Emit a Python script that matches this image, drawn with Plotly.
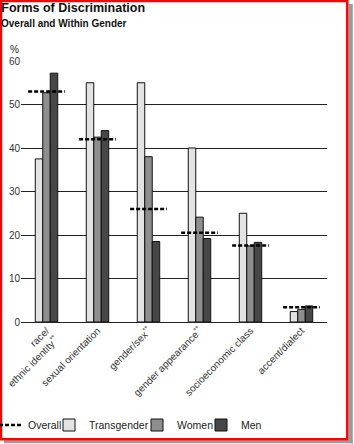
import plotly.graph_objects as go

categories = ["race/<br>ethnic identity<sup>**</sup>", "sexual orientation", "gender/sex<sup>**</sup>",
              "gender appearance<sup>**</sup>", "socioeconomic class", "accent/dialect"]
overall = [53, 42, 26, 20.5, 17.6, 3.4]
transgender = [37.5, 55, 55, 40, 25, 2.4]
women = [52.7, 42.5, 38, 24.1, 17.5, 2.9]
men = [57.2, 44, 18.5, 19.2, 18.3, 3.7]
y_ticks = [0, 10, 20, 30, 40, 50, 60]

W, H = 354, 444
ML, MR, MT, MB = 21, 27, 61, 122
PW, PH = W - ML - MR, H - MT - MB

def px(x):
    return (x - ML) / PW

def py(y):
    return (H - MB - y) / PH

pos = list(range(len(categories)))
half = 0.36
ox, oy = [], []
for i, v in zip(pos, overall):
    ox += [i - half, i + half, None]
    oy += [v, v, None]

font = "Liberation Sans, Arial, sans-serif"
fig = go.Figure()
fig.add_trace(go.Scatter(x=ox, y=oy, mode="lines", name="Overall",
                         line=dict(color="black", width=2.5, dash="4px,2px"),
                         legendwidth=16))
for name, vals, col, lw in [("Transgender", transgender, "#e3e3e3", 43),
                            ("Women", women, "#8e8e8e", 19),
                            ("Men", men, "#474747", 21)]:
    fig.add_trace(go.Bar(x=pos, y=vals, name=name, marker=dict(color=col, line=dict(color="#111", width=1)),
                         legendwidth=lw))

shapes = [
    # shadow
    dict(type="rect", xref="paper", yref="paper", x0=px(348.7), x1=px(352.8), y0=py(443.3), y1=py(4),
         fillcolor="#9a9a9a", line=dict(width=0), layer="above"),
    dict(type="rect", xref="paper", yref="paper", x0=px(4), x1=px(352.8), y0=py(443.3), y1=py(440.3),
         fillcolor="#9a9a9a", line=dict(width=0), layer="above"),
    # red frame
    dict(type="rect", xref="paper", yref="paper", x0=px(1), x1=px(347.3), y0=py(439.2), y1=py(0.9),
         line=dict(color="#ff0000", width=2.5), fillcolor="rgba(0,0,0,0)", layer="above"),
]

fig.update_layout(
    width=W, height=H,
    margin=dict(l=ML, r=MR, t=MT, b=MB, autoexpand=False),
    paper_bgcolor="white", plot_bgcolor="white",
    font=dict(family=font, color="#222", size=10),
    barmode="group", bargap=0.56, bargroupgap=0,
    title=dict(text="<b>Forms of Discrimination</b>", x=1.3 / W, xanchor="left", xref="container",
               y=1 - 8 / H, yanchor="middle", yref="container",
               font=dict(size=12.5, color="#111", family=font)),
    annotations=[
        dict(text="<b>Overall and Within Gender</b>", xref="paper", yref="paper", x=px(-1), y=py(24),
             xanchor="left", yanchor="middle", showarrow=False, font=dict(size=10, color="#111")),
        dict(text="%", xref="paper", yref="paper", x=px(14), y=py(49),
             xanchor="center", yanchor="middle", showarrow=False, font=dict(size=10, color="#222")),
    ],
    xaxis=dict(tickmode="array", tickvals=pos, ticktext=categories, tickangle=-45,
               range=[-0.5, len(categories) - 0.5], showgrid=False, showline=False, zeroline=False,
               ticklabeloverflow="allow", tickfont=dict(size=10, color="#333")),
    yaxis=dict(range=[0, 60], tickvals=y_ticks, showgrid=True, gridcolor="#222", gridwidth=1,
               zeroline=True, zerolinecolor="#222", zerolinewidth=1, showline=False, ticks="",
               tickfont=dict(size=10, color="#333")),
    legend=dict(orientation="h", x=px(-12), xanchor="left", y=py(425), yanchor="middle",
                font=dict(size=10.5, color="#222"), bgcolor="rgba(0,0,0,0)", borderwidth=0,
                traceorder="normal"),
    shapes=shapes,
    showlegend=True,
)

fig.write_html("out.html")
